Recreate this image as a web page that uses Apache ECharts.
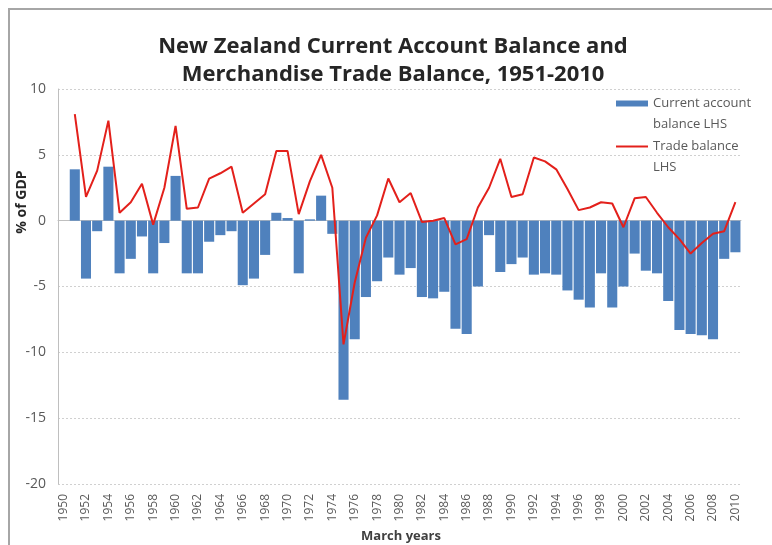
<!DOCTYPE html>
<html>
<head>
<meta charset="utf-8">
<script src="https://cdn.jsdelivr.net/npm/echarts@6/dist/echarts.min.js"></script>
<style>
  html, body { margin: 0; padding: 0; background: #fff; }
  #chart { width: 772px; height: 545px; }
</style>
</head>
<body>
<div id="chart"></div>
<script>
// March years, 1950 has no data
var years = [];
for (var y = 1950; y <= 2010; y++) years.push(String(y));

// current account balance, % of GDP (1950..2010)
var currentAccount = [
  null, 3.9, -4.4, -0.8, 4.1, -4.0, -2.9, -1.2, -4.0, -1.7,
  3.4, -4.0, -4.0, -1.6, -1.1, -0.8, -4.9, -4.4, -2.6, 0.6,
  0.2, -4.0, 0.1, 1.9, -1.0, -13.6, -9.0, -5.8, -4.6, -2.8,
  -4.1, -3.6, -5.8, -5.9, -5.4, -8.2, -8.6, -5.0, -1.1, -3.9,
  -3.3, -2.8, -4.1, -4.0, -4.1, -5.3, -6.0, -6.6, -4.0, -6.6,
  -5.0, -2.5, -3.8, -4.0, -6.1, -8.3, -8.6, -8.7, -9.0, -2.9,
  -2.4
];

// merchandise trade balance, % of GDP (1950..2010)
var tradeBalance = [
  null, 8.1, 1.8, 3.8, 7.6, 0.6, 1.4, 2.8, -0.3, 2.5,
  7.2, 0.9, 1.0, 3.2, 3.6, 4.1, 0.6, 1.3, 2.0, 5.3,
  5.3, 0.5, 3.0, 5.0, 2.5, -9.4, -4.7, -1.3, 0.4, 3.2,
  1.4, 2.1, -0.1, 0.0, 0.2, -1.8, -1.4, 1.0, 2.5, 4.7,
  1.8, 2.0, 4.8, 4.5, 3.9, 2.4, 0.8, 1.0, 1.4, 1.3,
  -0.5, 1.7, 1.8, 0.6, -0.5, -1.4, -2.5, -1.7, -1.0, -0.8,
  1.4
];

var yTicks = { min: -20, max: 10, step: 5 };

var chart = echarts.init(document.getElementById('chart'));
var font = '"Open Sans", "Noto Sans", sans-serif';

chart.setOption({
  animation: false,
  textStyle: { fontFamily: font },
  title: {
    text: 'New Zealand Current Account Balance and\nMerchandise Trade Balance, 1951-2010',
    left: 388,
    textAlign: 'center',
    top: 28,
    textStyle: { fontSize: 22, fontWeight: 'bold', color: '#262626', lineHeight: 28, fontFamily: font }
  },
  legend: {
    orient: 'vertical',
    left: 615,
    top: 72,
    padding: 0,
    itemWidth: 32,
    itemHeight: 6,
    itemGap: -20,
    selectedMode: false,
    data: [
      { name: 'Current account balance LHS', icon: 'rect' },
      { name: 'Trade balance LHS', itemStyle: { opacity: 0 } }
    ],
    // blank first line keeps the key beside the first text line
    formatter: function (name) {
      return name === 'Trade balance LHS' ? '\nTrade balance\nLHS' : '\nCurrent account\nbalance LHS';
    },
    textStyle: { fontSize: 13, color: '#595959', lineHeight: 21, fontFamily: font }
  },
  grid: { left: 58, right: 31, top: 89, bottom: 61, outerBoundsMode: 'none' },
  xAxis: [
    {
      type: 'category',
      data: years,
      position: 'bottom',
      axisLine: { show: false, onZero: false },
      axisTick: { show: false },
      axisLabel: { interval: 1, rotate: 90, fontSize: 12, color: '#595959', margin: 10 }
    },
    {
      type: 'category',
      data: years,
      position: 'bottom',
      axisLine: { show: true, onZero: true, lineStyle: { color: '#bfbfbf', width: 1 } },
      axisTick: { show: false },
      axisLabel: { show: false }
    }
  ],
  yAxis: {
    type: 'value',
    min: yTicks.min,
    max: yTicks.max,
    interval: yTicks.step,
    axisLine: { show: true, lineStyle: { color: '#bfbfbf' } },
    axisTick: { show: false },
    axisLabel: { fontSize: 14, color: '#595959', margin: 12 },
    splitLine: { lineStyle: { color: '#d0d0d0', type: [2, 2] } }
  },
  graphic: [
    {
      type: 'rect',
      shape: { x: 9, y: 9, width: 800, height: 600 },
      style: { fill: 'none', stroke: '#a6a6a6', lineWidth: 2 },
      silent: true
    },
    {
      type: 'text',
      x: 22,
      y: 202,
      rotation: Math.PI / 2,
      style: {
        text: '% of GDP',
        fontSize: 14,
        fontWeight: 'bold',
        fill: '#262626',
        fontFamily: font,
        align: 'center',
        verticalAlign: 'middle'
      }
    },
    {
      type: 'text',
      x: 401,
      y: 536,
      style: {
        text: 'March years',
        fontSize: 13,
        fontWeight: 'bold',
        fill: '#404040',
        fontFamily: font,
        align: 'center',
        verticalAlign: 'middle'
      }
    }
  ],
  series: [
    {
      name: 'Current account balance LHS',
      type: 'bar',
      data: currentAccount,
      barCategoryGap: '10%',
      itemStyle: { color: '#4f81bd' }
    },
    {
      name: 'Trade balance LHS',
      type: 'line',
      data: tradeBalance,
      symbol: 'none',
      z: 3,
      lineStyle: { color: '#e3201b', width: 2 },
      itemStyle: { color: '#e3201b' }
    }
  ]
});
</script>
</body>
</html>
